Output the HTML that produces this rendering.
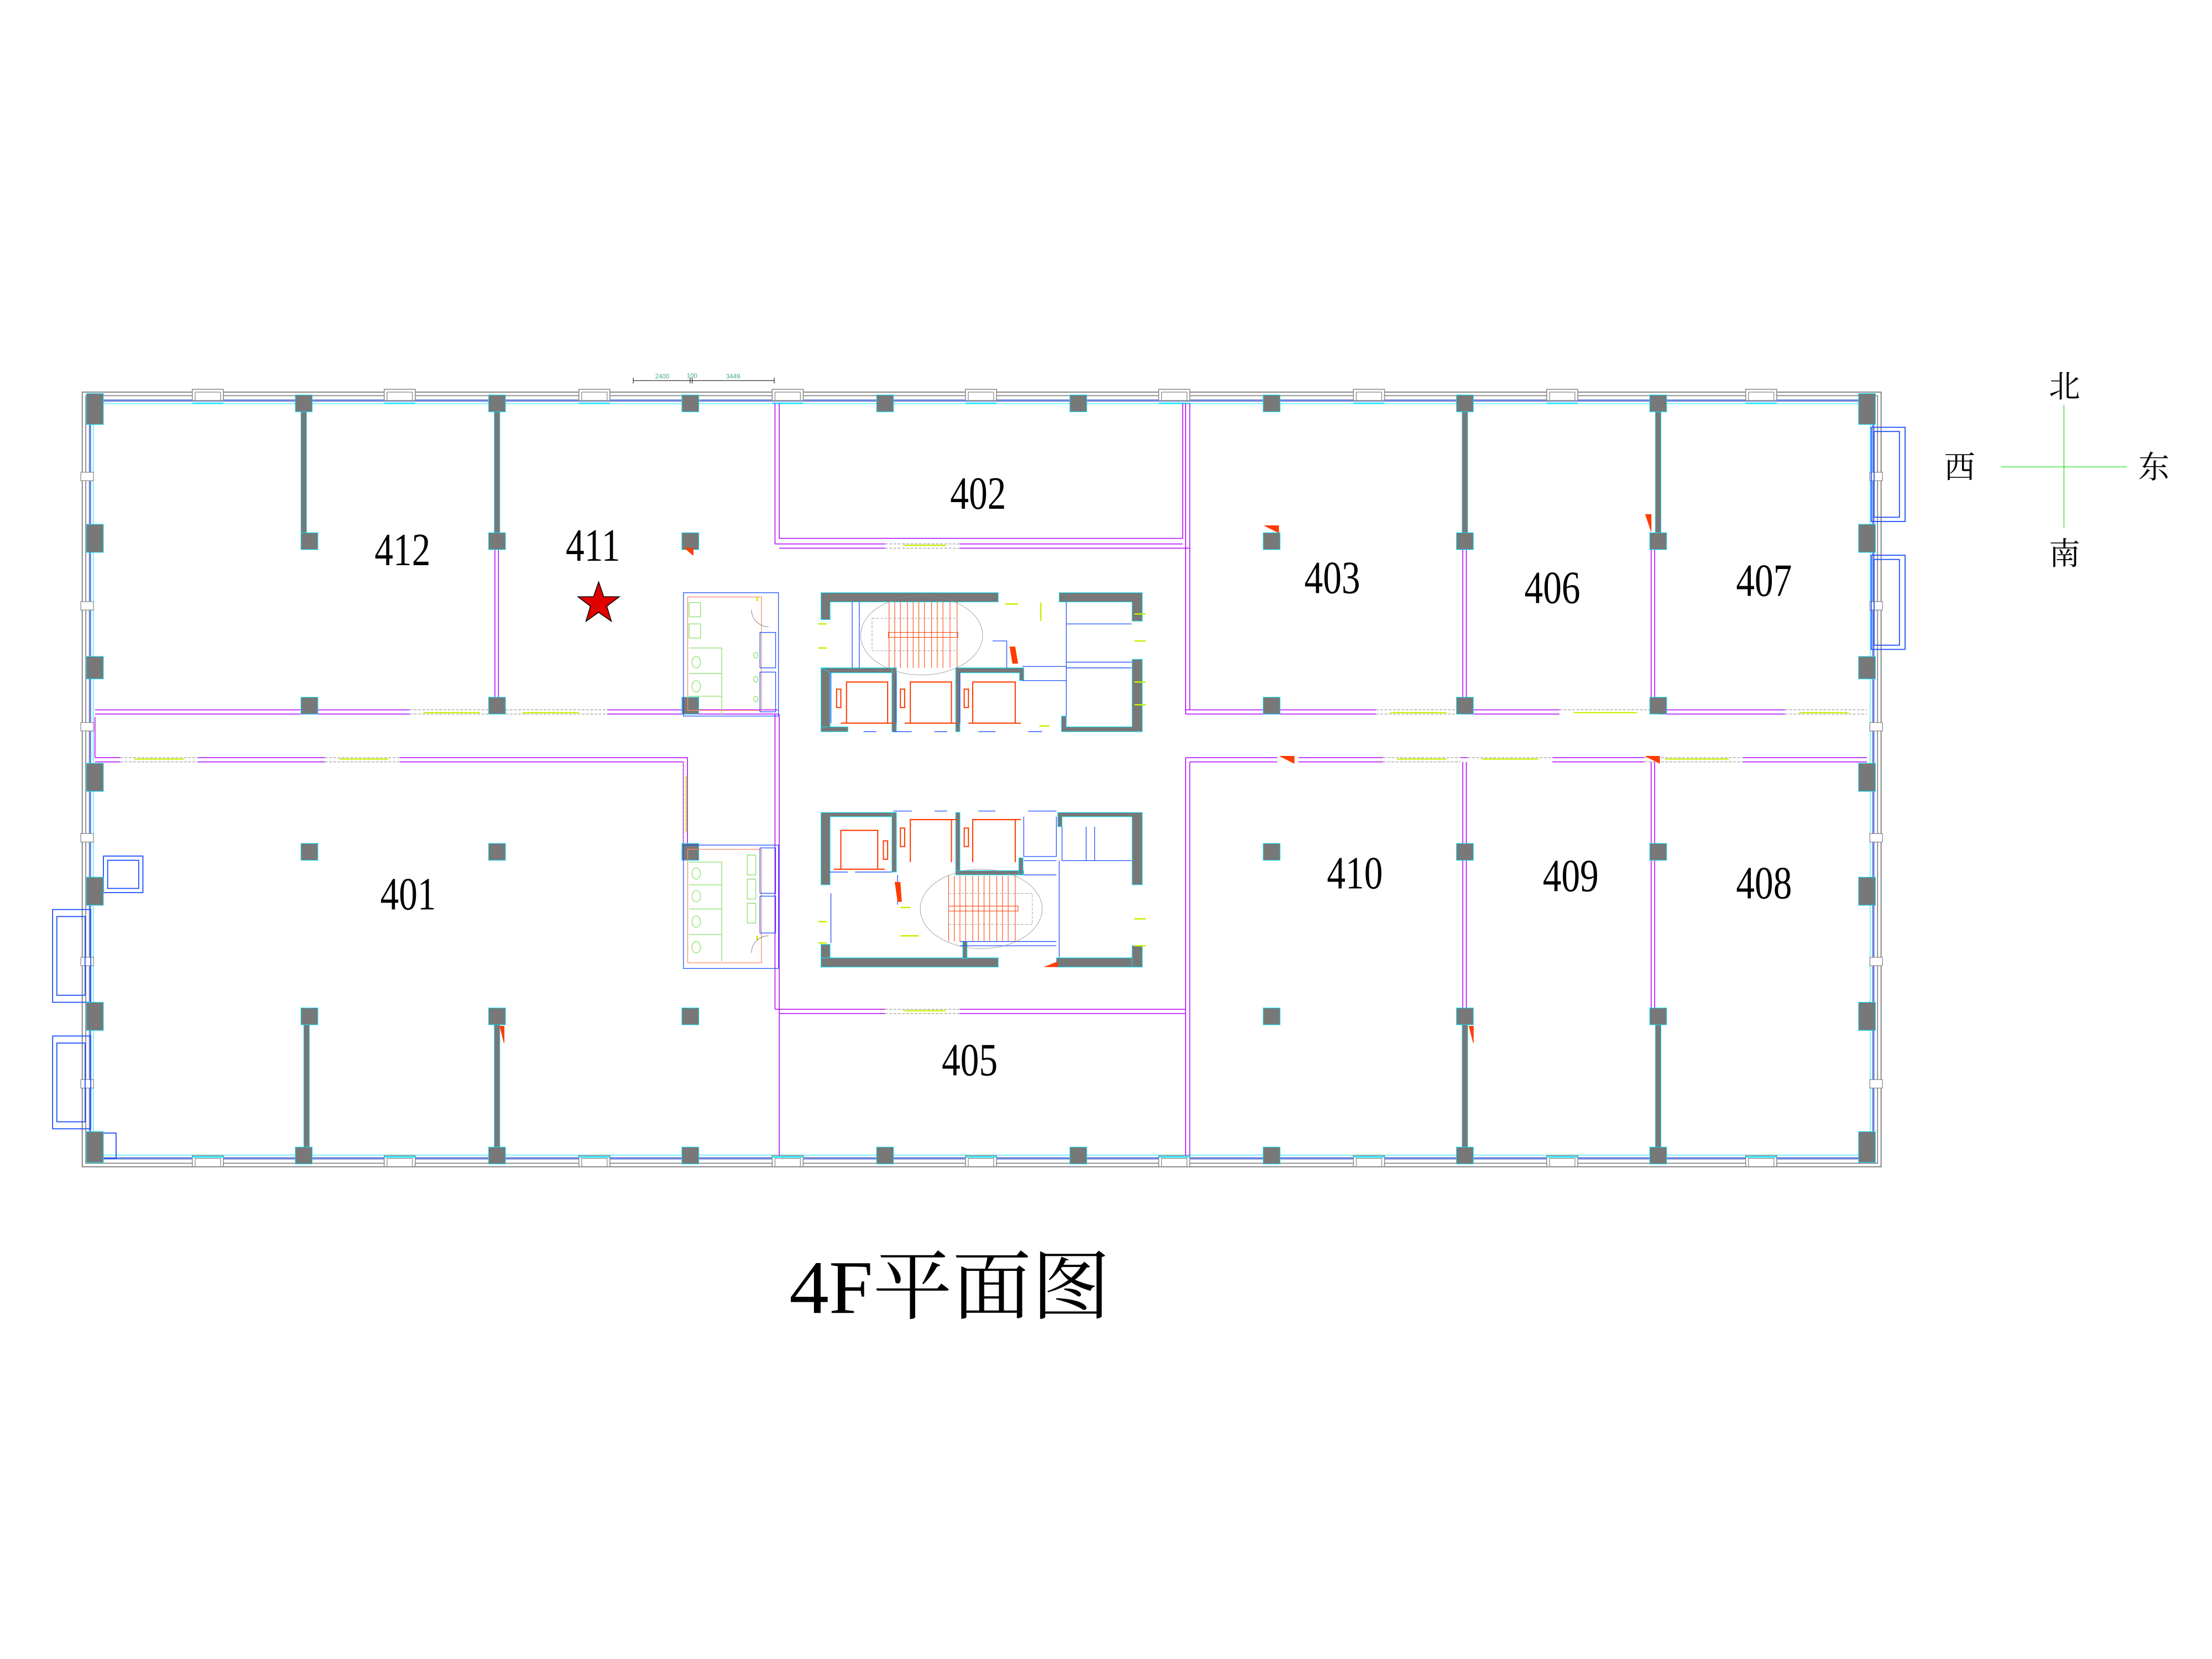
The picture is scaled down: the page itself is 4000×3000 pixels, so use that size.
<!DOCTYPE html>
<html><head><meta charset="utf-8"><style>
html,body{margin:0;padding:0;background:#fff;}
svg{display:block;}
</style></head><body>
<svg width="4000" height="3000" viewBox="0 0 1560 1170" xmlns="http://www.w3.org/2000/svg">
<rect width="1560" height="1170" fill="#fff"/>
<defs>
<g id="win"><rect x="-11" y="-2" width="22" height="8" fill="#fff" stroke="#888" stroke-width="0.6"/><rect x="-9" y="0" width="18" height="6" fill="none" stroke="#888" stroke-width="0.5"/></g>
</defs>
<g transform="matrix(0.995 0 0 0.9915 0.3 1.9)">
<!-- exterior walls -->
<rect x="58" y="277" width="1275" height="551" fill="none" stroke="#888" stroke-width="0.8"/>
<rect x="60.5" y="279.5" width="1270" height="546" fill="none" stroke="#888" stroke-width="0.7"/>
<rect x="63.5" y="283" width="1264" height="539" fill="none" stroke="#6f85dc" stroke-width="1.6"/>
<rect x="65.8" y="285.2" width="1259.5" height="534.5" fill="none" stroke="#00e5ff" stroke-width="0.4"/>
<!-- window boxes -->
<g>
<use href="#win" x="147" y="277"/><use href="#win" x="283" y="277"/><use href="#win" x="421" y="277"/><use href="#win" x="558" y="277"/><use href="#win" x="695" y="277"/><use href="#win" x="832" y="277"/><use href="#win" x="970" y="277"/><use href="#win" x="1107" y="277"/><use href="#win" x="1248" y="277"/>
<use href="#win" x="147" y="822"/><use href="#win" x="283" y="822"/><use href="#win" x="421" y="822"/><use href="#win" x="558" y="822"/><use href="#win" x="695" y="822"/><use href="#win" x="832" y="822"/><use href="#win" x="970" y="822"/><use href="#win" x="1107" y="822"/><use href="#win" x="1248" y="822"/>
</g>
<g fill="none" stroke="#00e5ff" stroke-width="0.9">
<path d="M136 285h22M272 285h22M410 285h22M547 285h22M684 285h22M821 285h22M959 285h22M1096 285h22M1237 285h22"/>
<path d="M136 821h22M272 821h22M410 821h22M547 821h22M684 821h22M821 821h22M959 821h22M1096 821h22M1237 821h22"/>
</g>
<g fill="#fff" stroke="#888" stroke-width="0.5">
<rect x="57" y="334" width="9" height="6"/><rect x="57" y="426" width="9" height="6"/><rect x="57" y="512" width="9" height="6"/><rect x="57" y="591" width="9" height="6"/><rect x="57" y="679" width="9" height="6"/><rect x="57" y="766" width="9" height="6"/>
<rect x="1325" y="334" width="9" height="6"/><rect x="1325" y="426" width="9" height="6"/><rect x="1325" y="512" width="9" height="6"/><rect x="1325" y="591" width="9" height="6"/><rect x="1325" y="679" width="9" height="6"/><rect x="1325" y="766" width="9" height="6"/>
</g>
<!-- balconies -->
<g fill="none" stroke="#1a4cff" stroke-width="0.7">
<rect x="37" y="645" width="27" height="66"/><rect x="40" y="650" width="20" height="56"/>
<rect x="37" y="735" width="27" height="66"/><rect x="40" y="740" width="20" height="56"/>
<rect x="73" y="607" width="28" height="26"/><rect x="76" y="610" width="22" height="20"/>
<rect x="1326" y="302" width="24" height="67"/><rect x="1328" y="305" width="18" height="61"/>
<rect x="1326" y="393" width="24" height="67"/><rect x="1328" y="396" width="18" height="61"/>
<rect x="66" y="804" width="16" height="18"/>
</g>
<!-- magenta partitions -->
<g fill="none" stroke="#b400ff" stroke-width="0.6">
<path d="M67 503H290M350 503H355M430 503H551M67 506H290M430 506H551"/>
<path d="M840 503H975M1035 503H1105M1175 503H1265M840 506H975M1035 506H1105M1175 506H1265"/>
<path d="M67 537H85M140 537H230M283 537H487V600M67 540H85M140 540H230M283 540H484V600"/>
<path d="M840 537H905M920 537H980M1035 537H1040M1100 537H1165M1235 537H1323M843 540H905M920 540H980M1100 540H1165M1235 540H1323"/>
<path d="M549 285V385M552 285V381H838V285M552 388H627M680 388H843V285M549 385H627M680 385H838"/>
<path d="M840 285V506M843 388V503"/>
<path d="M549 506V716M552 506V820M549 716H627M680 716H840M552 719H627M680 719H840"/>
<path d="M840 537V820M843 540V820"/>
<path d="M350.5 388V503M353 388V503"/>
<path d="M1036.5 388V503M1039 388V503M1170 388V503M1172.5 388V503"/>
<path d="M1036.5 540V716M1039 540V716M1170 540V716M1172.5 540V716"/>
<path d="M67 508V537"/>
</g>
<g fill="none" stroke="#888" stroke-width="0.4" stroke-dasharray="2 1">
<path d="M290 503H350M290 506H350M355 503H430M355 506H430M975 503H1035M975 506H1035M1105 503H1175M1265 503H1323M1265 506H1323M85 537H140M85 540H140M230 537H283M230 540H283M980 537H1035M980 540H1035M1040 537H1100M1165 537H1235M1165 540H1235M627 385H680M627 388H680M627 716H680M627 719H680M484 540V600"/>
</g>
<g stroke="#c8f000" stroke-width="0.9">
<path d="M300 505H340M370 505H410M985 505H1025M1115 505H1160M1275 505H1310M95 538H130M240 538H275M990 538H1025M1050 538H1090M1180 538H1225M640 386H670M640 717H670M486 550V590"/>
</g>
<!-- thick walls -->
<g fill="#787878" stroke="#00e5ff" stroke-width="0.3">
<rect x="213" y="290" width="4" height="88"/><rect x="350" y="290" width="4" height="88"/><rect x="1036" y="290" width="4" height="88"/><rect x="1173" y="290" width="4" height="88"/>
<rect x="215" y="726" width="4" height="89"/><rect x="350" y="726" width="4" height="89"/><rect x="1036" y="726" width="4" height="89"/><rect x="1173" y="726" width="4" height="89"/>
</g>
<!-- columns -->
<g fill="#787878" stroke="#00e5ff" stroke-width="0.4">
<rect x="61" y="278" width="12" height="22"/><rect x="1317" y="278" width="12" height="22"/>
<rect x="61" y="371" width="12" height="20"/><rect x="61" y="465" width="12" height="16"/><rect x="61" y="541" width="12" height="20"/><rect x="61" y="622" width="12" height="20"/><rect x="61" y="711" width="12" height="20"/><rect x="61" y="803" width="12" height="22"/>
<rect x="1317" y="371" width="12" height="20"/><rect x="1317" y="465" width="12" height="16"/><rect x="1317" y="541" width="12" height="20"/><rect x="1317" y="622" width="12" height="20"/><rect x="1317" y="711" width="12" height="20"/><rect x="1317" y="803" width="12" height="22"/>
<rect x="209" y="279" width="12" height="12"/><rect x="346" y="279" width="12" height="12"/><rect x="483" y="279" width="12" height="12"/><rect x="621" y="279" width="12" height="12"/><rect x="758" y="279" width="12" height="12"/><rect x="895" y="279" width="12" height="12"/><rect x="1032" y="279" width="12" height="12"/><rect x="1169" y="279" width="12" height="12"/>
<rect x="209" y="814" width="12" height="12"/><rect x="346" y="814" width="12" height="12"/><rect x="483" y="814" width="12" height="12"/><rect x="621" y="814" width="12" height="12"/><rect x="758" y="814" width="12" height="12"/><rect x="895" y="814" width="12" height="12"/><rect x="1032" y="814" width="12" height="12"/><rect x="1169" y="814" width="12" height="12"/>
<rect x="213" y="377" width="12" height="12"/><rect x="346" y="377" width="12" height="12"/><rect x="483" y="377" width="12" height="12"/><rect x="895" y="377" width="12" height="12"/><rect x="1032" y="377" width="12" height="12"/><rect x="1169" y="377" width="12" height="12"/>
<rect x="213" y="494" width="12" height="12"/><rect x="346" y="494" width="12" height="12"/><rect x="483" y="494" width="12" height="12"/><rect x="895" y="494" width="12" height="12"/><rect x="1032" y="494" width="12" height="12"/><rect x="1169" y="494" width="12" height="12"/>
<rect x="213" y="598" width="12" height="12"/><rect x="346" y="598" width="12" height="12"/><rect x="483" y="598" width="12" height="12"/><rect x="895" y="598" width="12" height="12"/><rect x="1032" y="598" width="12" height="12"/><rect x="1169" y="598" width="12" height="12"/>
<rect x="213" y="715" width="12" height="12"/><rect x="346" y="715" width="12" height="12"/><rect x="483" y="715" width="12" height="12"/><rect x="895" y="715" width="12" height="12"/><rect x="1032" y="715" width="12" height="12"/><rect x="1169" y="715" width="12" height="12"/>
</g>
<g fill="#ff3c00" stroke="#ff3c00" stroke-width="0.4">
<path d="M485 388h6v5z"/><path d="M896 372h10v5z"/><path d="M1166 364h4v12z"/><path d="M907 536h10v5z"/><path d="M1166 536h10v5z"/><path d="M354 728h3v12z"/><path d="M1041 728h3v12z"/>
</g>
<!-- labels -->
<g font-family="'Liberation Serif','Noto Serif CJK SC',serif" font-size="33" fill="#000" text-anchor="middle">
<text transform="translate(285,400) scale(0.8,1)">412</text>
<text transform="translate(420,397) scale(0.8,1)">411</text>
<text transform="translate(693,360) scale(0.8,1)">402</text>
<text transform="translate(944,420) scale(0.8,1)">403</text>
<text transform="translate(1100,427) scale(0.8,1)">406</text>
<text transform="translate(1250,422) scale(0.8,1)">407</text>
<text transform="translate(289,645) scale(0.8,1)">401</text>
<text transform="translate(960,630) scale(0.8,1)">410</text>
<text transform="translate(1113,632) scale(0.8,1)">409</text>
<text transform="translate(1250,637) scale(0.8,1)">408</text>
<text transform="translate(687,763) scale(0.8,1)">405</text>
</g>
<text transform="translate(673,932) scale(1.04,1)" font-family="'Liberation Serif','Noto Serif CJK SC',serif" font-size="54" text-anchor="middle" fill="#000">4F平面图</text>
<polygon points="424,412 427.6,422.5 438.6,422.6 429.8,429.3 433,440 424,433.6 415,440 418.2,429.3 409.4,422.6 420.4,422.5" fill="#e00000" stroke="#000" stroke-width="0.6"/>
</g>
<!-- scale bar -->
<g stroke="#000" stroke-width="0.4">
<path d="M446.6 268.4H546M446.6 266.4v4M486.7 266.4v4M488.2 266.4v4M546 266.4v4"/>
</g>
<g font-family="'Liberation Sans',sans-serif" font-size="4.5" fill="#4aaa90" text-anchor="middle">
<text x="467" y="267">2400</text><text x="488" y="266.5">100</text><text x="517" y="267">3449</text>
</g>
<!-- toilets -->
<g fill="none" stroke-width="0.5">
<rect x="482" y="418" width="67" height="87" stroke="#1a4cff"/>
<rect x="485" y="421" width="52" height="80" stroke="#ff8866"/>
<rect x="536" y="446" width="11" height="25" stroke="#1a4cff"/><rect x="536" y="474" width="11" height="28" stroke="#1a4cff"/>
<rect x="482" y="596" width="67" height="87" stroke="#1a4cff"/>
<rect x="485" y="599" width="52" height="80" stroke="#ff8866"/>
<rect x="536" y="598" width="11" height="32" stroke="#1a4cff"/><rect x="536" y="632" width="11" height="26" stroke="#1a4cff"/>
<g stroke="#88dd66">
<rect x="486" y="425" width="8" height="10"/><rect x="486" y="440" width="8" height="10"/>
<path d="M486 457h23v47M486 475h23M486 491h23"/>
<ellipse cx="491" cy="467" rx="3" ry="4"/><ellipse cx="491" cy="484" rx="3" ry="4"/>
<ellipse cx="533" cy="462" rx="1.5" ry="2"/><ellipse cx="533" cy="479" rx="1.5" ry="2"/><ellipse cx="533" cy="493" rx="1.5" ry="2"/>
<path d="M486 608h23v70M486 624h23M486 641h23M486 659h23"/>
<ellipse cx="491" cy="616" rx="3" ry="4"/><ellipse cx="491" cy="632" rx="3" ry="4"/><ellipse cx="491" cy="650" rx="3" ry="4"/><ellipse cx="491" cy="668" rx="3" ry="4"/>
<rect x="527" y="603" width="6" height="14"/><rect x="527" y="620" width="6" height="14"/><rect x="527" y="637" width="6" height="14"/>
</g>
<path d="M534 424v-3M534 660v3" stroke="#c8f000" stroke-width="1.2"/>
<path d="M530 430a12 12 0 0 0 12 12M530 672a12 12 0 0 1 12 -12" stroke="#666" stroke-width="0.3"/>
</g>
<!-- top core -->
<g fill="#787878" stroke="#00e5ff" stroke-width="0.4">
<path d="M579 418H704V424.5H585.4V437H579Z"/>
<path d="M747 418H805.6V438H798.4V424.5H747Z"/>
<rect x="579" y="471" width="6.4" height="45"/>
<path d="M579 471H632V474.5H585.4Z"/>
<rect x="629" y="471" width="3.2" height="45"/>
<path d="M674 471H722V480H719V474.5H677V516H674Z"/>
<path d="M579 512.6H598V516H579Z"/>
<path d="M748.6 505H752V512.6H798.4V465H805.6V516H748.6Z"/>
</g>
<g fill="none" stroke="#1a4cff" stroke-width="0.5">
<path d="M752 424.5V505M752 440H798M752 467H798M752 471H798M721 470H752M721 480H752M601 424.5V471M606 424.5V471M700 452H710V471M586 474.5V510M632 474.5V510M677 474.5V510"/>
<path d="M630 516H643M609 516H618M659 516H668M690 516H702M725 516H735"/>
</g>
<g fill="none" stroke="#ff3c00" stroke-width="0.4">
<path d="M627 424.5V471M631 424.5V471M635 424.5V471M640 424.5V471M644 424.5V471M648 424.5V471M652 424.5V471M657 424.5V471M661 424.5V471M665 424.5V471M670 424.5V471M675 424.5V471"/>
<rect x="626.5" y="446" width="49" height="3.5"/>
</g>
<g fill="none" stroke="#ff3c00" stroke-width="0.8">
<path d="M597 510V481H626V510M642 510V481H671V510M686 510V481H716V510"/>
<rect x="590" y="486" width="3" height="13"/><rect x="635" y="486" width="3" height="13"/><rect x="680" y="486" width="3" height="13"/>
<path d="M593 510H630M638 510H675M683 510H720"/>
</g>
<g fill="none" stroke="#888" stroke-width="0.3">
<ellipse cx="650" cy="448" rx="43" ry="28"/>
<path d="M615 436H675V459H615Z" stroke-dasharray="2 1"/>
</g>
<path d="M712 456l4 0 2 12 -4 0z" fill="#ff3c00"/>
<g stroke="#c8f000" stroke-width="1"><path d="M577 440H583M577 457H583M709 426H718M734 425V438M800 433H808M800 452H808M800 481H808M800 497H808M733 512H740"/></g>
<!-- bottom core -->
<g fill="#787878" stroke="#00e5ff" stroke-width="0.4">
<path d="M579 573H632V576H585.4V624H579Z"/>
<rect x="579" y="666" width="6.4" height="16"/>
<path d="M579 675.5H704V682H579Z"/>
<path d="M745 675.5H805.6V682H745Z"/>
<path d="M746 573H805.6V624H798.4V576H749V583H746Z"/>
<rect x="798.4" y="667" width="7.2" height="15"/>
<rect x="674" y="573" width="3" height="44"/>
<path d="M674 614H722V617H674Z"/><rect x="718.5" y="605" width="3" height="12"/>
<rect x="629" y="573" width="3.2" height="42"/>
<rect x="679" y="664" width="3" height="12"/>
</g>
<g fill="none" stroke="#1a4cff" stroke-width="0.5">
<path d="M722 576V604H745V576M749 583V607H798M722 607H745M747 607V675M722 617H745M585 615H598M603 615H629M633 617V638M677 664H745M677 667H745M586 630V665M766 583V607M772 583V607"/>
<path d="M630 572H643M659 572H668M690 572H702M725 572H745"/>
</g>
<g fill="none" stroke="#ff3c00" stroke-width="0.4">
<path d="M669 617.5V664M673 617.5V664M677 617.5V664M681 617.5V664M686 617.5V664M690 617.5V664M694 617.5V664M698 617.5V664M703 617.5V664M707 617.5V664M711 617.5V664M716 617.5V664"/>
<rect x="669" y="639" width="49" height="3.5"/>
</g>
<g fill="none" stroke="#ff3c00" stroke-width="0.8">
<path d="M593 613V585.6H619V613M642 608V578H671V608M686 608V578H716V608"/>
<rect x="623" y="593" width="3" height="13"/><rect x="635" y="584" width="3" height="13"/><rect x="680" y="584" width="3" height="13"/>
<path d="M588 613H624M642 578H675M686 578H720"/>
</g>
<g fill="none" stroke="#888" stroke-width="0.3">
<ellipse cx="692" cy="641" rx="43" ry="28"/>
<path d="M669 630H728V652H669Z" stroke-dasharray="2 1"/>
</g>
<path d="M631 622l4 0 1 14 -3 0z" fill="#ff3c00"/>
<path d="M736 682l10 -4 0 4z" fill="#ff3c00"/>
<g stroke="#c8f000" stroke-width="1"><path d="M635 640H642M635 660H648M577 650H583M577 665H583M800 648H808M800 667H808"/></g>
<!-- compass -->
<g stroke="#22e022" stroke-width="0.5"><path d="M1411 329.3H1500M1455.6 285.5V372"/></g>
<g font-family="'Liberation Serif','Noto Serif CJK SC',serif" font-size="22" fill="#000" text-anchor="middle">
<text x="1456" y="280">北</text>
<text x="1456" y="398">南</text>
<text x="1382" y="337">西</text>
<text x="1519" y="337">东</text>
</g>
</svg>
</body></html>
